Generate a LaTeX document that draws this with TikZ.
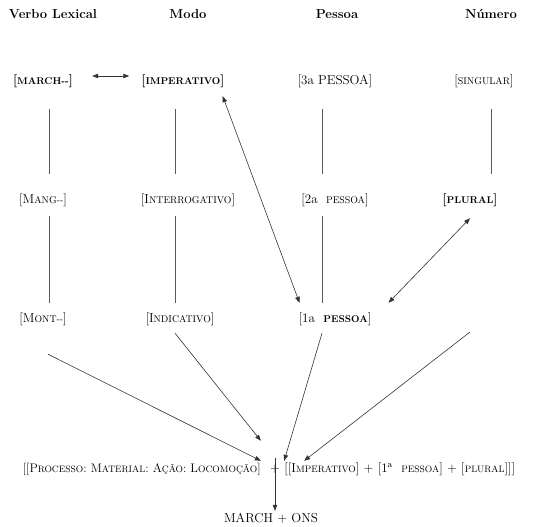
\documentclass[tikz,border=0pt]{standalone}
\usetikzlibrary{arrows.meta}
\newcommand\sm[1]{{\fontsize{9.8pt}{11pt}\selectfont #1}}
\newcommand\smb[1]{{\fontsize{9.3pt}{11pt}\selectfont #1}}
\tikzset{
  lbl/.style={inner sep=2pt, font=\fontsize{13pt}{15pt}\selectfont, text height=9pt, text depth=3pt},
  hdr/.style={lbl, font=\fontsize{13pt}{15pt}\selectfont\bfseries},
  vline/.style={draw=black!65, line width=0.6pt},
  conn/.style={draw=black!80, line width=0.6pt, -{Triangle[length=6pt,width=4.5pt]}},
  dconn/.style={draw=black!80, line width=0.6pt, {Triangle[length=6pt,width=4.5pt]}-{Triangle[length=6pt,width=4.5pt]}}
}
\begin{document}
\begin{tikzpicture}[x=1pt,y=-1pt]
\useasboundingbox (0,0) rectangle (534,526);
% headers
\node[hdr] (h1) at (53,16) {Verbo Lexical};
\node[hdr] (h2) at (188,16) {Modo};
\node[hdr] (h3) at (337,16) {Pessoa};
\node[hdr] (h4) at (491,16) {Número};
% row 1
\node[lbl] (march) at (43,82) {\bfseries[\sm{MARCH-{}-}]};
\node[lbl] (imp) at (183,82) {\bfseries[\sm{IMPERATIVO}]};
\node[lbl] (p3) at (335,82) {[3a PESSOA]};
\node[lbl] (sing) at (484,82) {[\sm{SINGULAR}]};
% row 2
\node[lbl] (mang) at (43,201) {[M\sm{ANG-{}-}]};
\node[lbl] (interr) at (188,201) {[I\sm{NTERROGATIVO}]};
\node[lbl] (p2) at (335,201) {[2a\ \ \sm{PESSOA}]};
\node[lbl] (plural) at (470,201) {\bfseries[\sm{PLURAL}]};
% row 3
\node[lbl] (mont) at (43,319) {[M\sm{ONT-{}-}]};
\node[lbl] (indic) at (180,319) {[I\sm{NDICATIVO}]};
\node[lbl] (p1) at (335,319) {[1a\ \ \textbf{\sm{PESSOA}}]};
% bottom
\node[lbl] (plus) at (275,469) {+};
\node[lbl, anchor=east, font=\fontsize{12.4pt}{15pt}\selectfont] (bl) at ([xshift=-5pt]plus.west) {[[P\smb{ROCESSO}: M\smb{ATERIAL}: A\smb{ÇÃO}: L\smb{OCOMOÇÃO}]};
\node[lbl, anchor=west] (br) at (plus.east) {[[I\smb{MPERATIVO}] + [1\textsuperscript{a}\ \ \smb{PESSOA}] + [\smb{PLURAL}]]]};
\node[lbl] (mo) at (271,519) {MARCH + ONS};
% column line positions
\coordinate (l1) at (49,0);
\coordinate (l2) at (175,0);
\coordinate (l3) at (322,0);
\coordinate (l4) at (491,0);
\coordinate (c4) at (470,332);
% vertical lines row1-row2
\draw[vline, shorten <=19pt, shorten >=19pt] (l1 |- march.south) -- (l1 |- mang.north);
\draw[vline, shorten <=19pt, shorten >=19pt] (l2 |- imp.south) -- (l2 |- interr.north);
\draw[vline, shorten <=19pt, shorten >=19pt] (l3 |- p3.south) -- (l3 |- p2.north);
\draw[vline, shorten <=19pt, shorten >=19pt] (l4 |- sing.south) -- (l4 |- plural.north);
% vertical lines row2-row3
\draw[vline, shorten <=7pt, shorten >=8pt] (l1 |- mang.south) -- (l1 |- mont.north);
\draw[vline, shorten <=7pt, shorten >=8pt] (l2 |- interr.south) -- (l2 |- indic.north);
\draw[vline, shorten <=7pt, shorten >=8pt] (l3 |- p2.south) -- (l3 |- p1.north);
% double arrows
\draw[dconn] ([xshift=17pt,yshift=6pt]march.east) -- ([xshift=-10pt,yshift=6pt]imp.west);
\draw[dconn] ([xshift=-4pt,yshift=-6pt]imp.south east) -- ([xshift=3pt,yshift=8pt]p1.north west);
\draw[dconn] ([yshift=-9pt]plural.south) -- ([xshift=15pt,yshift=8pt]p1.north east);
% arrows into the bottom line
\draw[conn] ([xshift=5pt,yshift=-27pt]mont.south) -- ([xshift=-2pt]bl.north east);
\draw[conn] ([xshift=-5pt,yshift=-6pt]indic.south) -- ([xshift=-2pt,yshift=20pt]bl.north east);
\draw[conn] ([xshift=-13pt,yshift=-6pt]p1.south) -- ([xshift=2pt]br.north west);
\draw[conn] (c4) -- ([xshift=22pt]br.north west);
% plus to result
\draw[conn] ([yshift=3pt]plus.north) -- (plus.north |- mo.north);
\end{tikzpicture}
\end{document}
